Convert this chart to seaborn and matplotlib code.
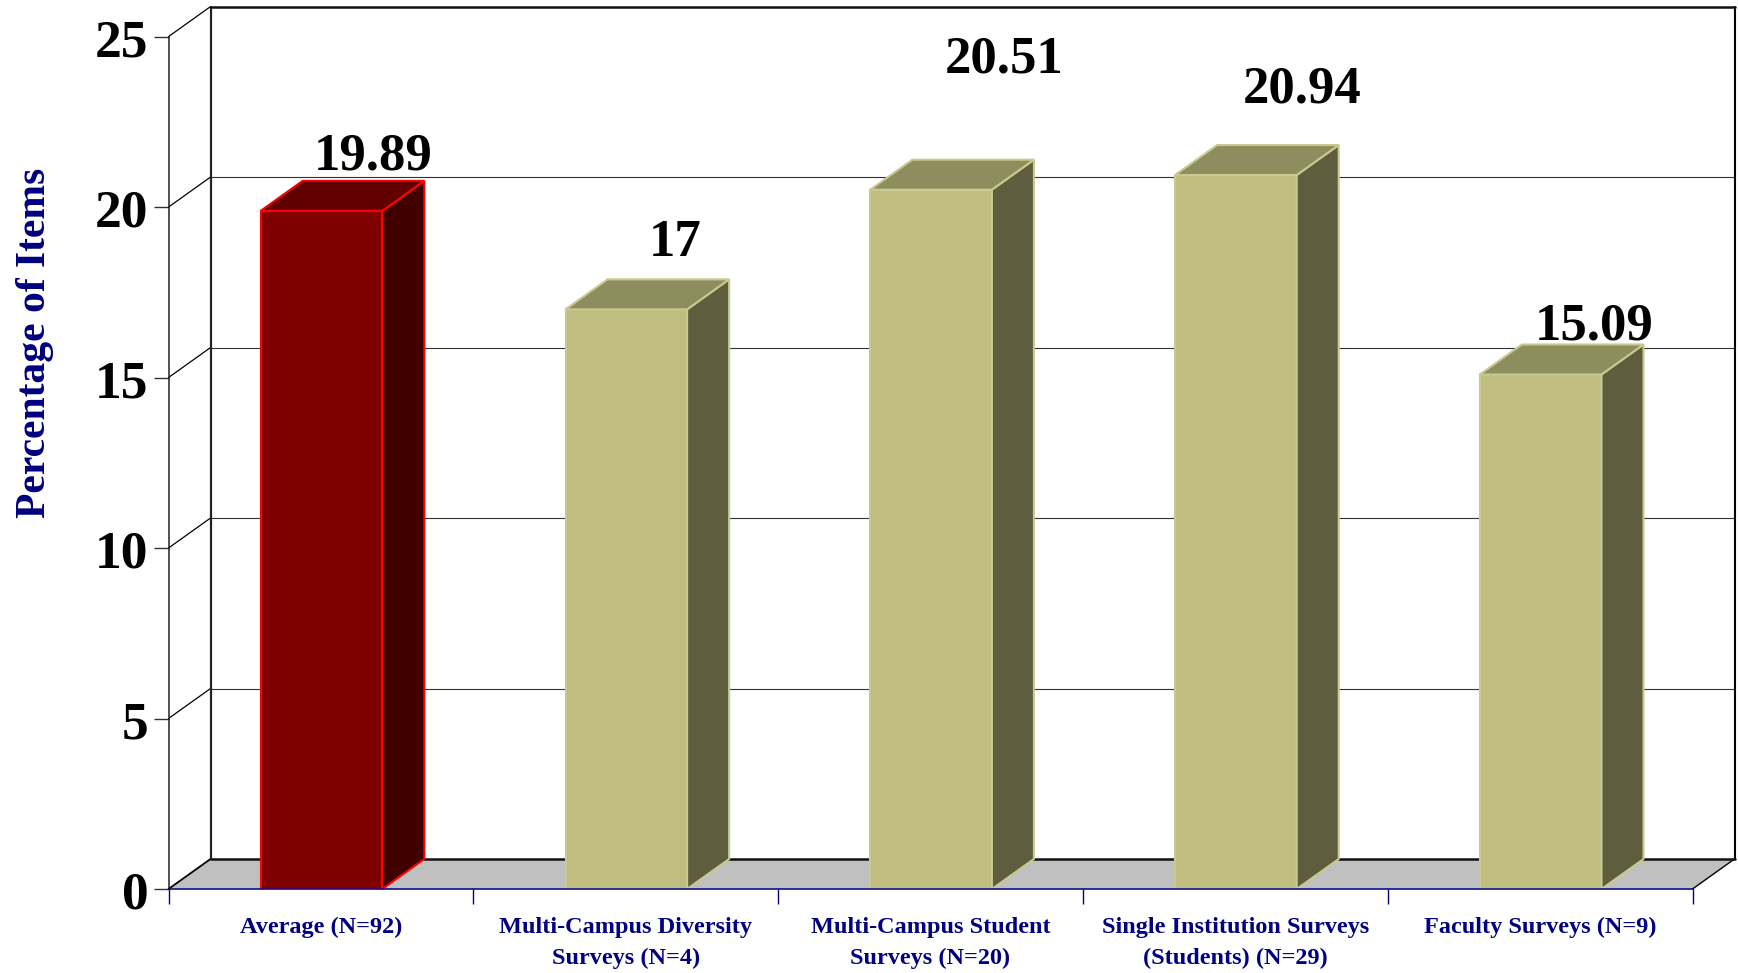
import matplotlib
matplotlib.use("Agg")
import matplotlib.pyplot as plt
from matplotlib.patches import Polygon
from matplotlib.ticker import FixedLocator
from matplotlib.transforms import ScaledTranslation
import pandas as pd
import seaborn as sns

categories = ["Average (N=92)", "Multi-Campus Diversity\nSurveys (N=4)",
              "Multi-Campus Student\nSurveys (N=20)",
              "Single Institution Surveys\n(Students) (N=29)", "Faculty Surveys (N=9)"]
values = [19.89, 17, 20.51, 20.94, 15.09]
y_ticks = [0, 5, 10, 15, 20, 25]
y_label = "Percentage of Items"

W, H = 1738, 973
DPI = 100
NAVY = "#000080"
sns.set_theme(style="white")
plt.rcParams["font.family"] = ["Liberation Serif", "DejaVu Serif"]
plt.rcParams["font.weight"] = "bold"

fig = plt.figure(figsize=(W / DPI, H / DPI), dpi=DPI)
left, right, top, bottom = 168.5, 1692.5, 36.6, 889.0
ax = fig.add_axes([left / W, 1 - bottom / H, (right - left) / W, (bottom - top) / H])

palette = ["#800000", "#BFBD80", "#BFBD80", "#BFBD80", "#BFBD80"]
edges = ["#FF0000", "#C9C88F", "#C9C88F", "#C9C88F", "#C9C88F"]
sides = ["#400000", "#5E5D3E", "#5E5D3E", "#5E5D3E", "#5E5D3E"]
tops = ["#600000", "#8E8D5E", "#8E8D5E", "#8E8D5E", "#8E8D5E"]

df = pd.DataFrame({"category": categories, "value": values})
sns.barplot(data=df, x="category", y="value", hue="category", palette=palette,
            legend=False, width=0.399, saturation=1, ax=ax, zorder=3)
bars = sorted(ax.patches, key=lambda p: p.get_x())
bars = [b for b in bars if b.get_height() > 0]
ax.set_xlim(-0.5, 4.5)
ax.set_ylim(0, 25)

px_x = (right - left) / 5
px_y = (bottom - top) / 25
dx, dy = 42 / px_x, 30 / px_y

# floor and walls
x0, x1 = -0.5, 4.5
ax.add_patch(Polygon([(x0, 0), (x1, 0), (x1 + dx, dy), (x0 + dx, dy)], closed=True,
                     fc="#C0C0C0", ec="none", zorder=0.5, clip_on=False))
for t in y_ticks[1:-1]:
    ax.plot([x0 + dx, x1 + dx], [t + dy, t + dy], color="#333333", lw=0.8, zorder=0.6, clip_on=False)
for t in y_ticks[1:]:
    ax.plot([x0, x0 + dx], [t, t + dy], color="black", lw=0.9, zorder=0.7, clip_on=False)
ax.plot([x0, x0 + dx], [0, dy], color="black", lw=1.3, zorder=0.7, clip_on=False)
ax.plot([x1, x1 + dx], [0, dy], color="black", lw=1.0, zorder=0.7, clip_on=False)
ax.plot([x0 + dx, x0 + dx], [dy, 25 + dy], color="#222222", lw=1.6, zorder=0.8, clip_on=False)
ax.plot([x1 + dx, x1 + dx], [dy, 25 + dy], color="black", lw=1.5, zorder=0.8, clip_on=False)
ax.plot([x0 + dx, x1 + dx], [dy, dy], color="#111111", lw=1.8, zorder=0.8, clip_on=False)
ax.plot([x0 + dx, x1 + dx], [25 + dy, 25 + dy], color="#111111", lw=1.8, zorder=0.8, clip_on=False)

# 3D faces and data labels
label_off = [(52, 54), (49, 66), (73, 130), (66, 86), (53, 48)]
for i, b in enumerate(bars):
    b.set_x(b.get_x() + 0.002)
    xa, w, h = b.get_x(), b.get_width(), b.get_height()
    b.set_edgecolor(edges[i])
    b.set_linewidth(1.5)
    bdy = dy * 1.0
    ax.add_patch(Polygon([(xa + w, 0), (xa + w + dx, bdy), (xa + w + dx, h + bdy), (xa + w, h)],
                         closed=True, fc=sides[i], ec=edges[i], lw=1.5, zorder=3.1, clip_on=False))
    ax.add_patch(Polygon([(xa, h), (xa + w, h), (xa + w + dx, h + bdy), (xa + dx, h + bdy)],
                         closed=True, fc=tops[i], ec=edges[i], lw=1.5, zorder=3.1, clip_on=False))
    ox, oy = label_off[i]
    ax.annotate(f"{values[i]:g}", (xa + w / 2, h), xytext=(ox * 0.72, oy * 0.72),
                textcoords="offset points", ha="center", va="center", fontsize=38,
                fontweight="bold", color="black", zorder=5, annotation_clip=False)

# axes
for s in ["top", "right"]:
    ax.spines[s].set_visible(False)
ax.spines["left"].set_color("#222222")
ax.spines["left"].set_linewidth(1.1)
ax.spines["bottom"].set_color(NAVY)
ax.spines["bottom"].set_linewidth(1.1)
ax.spines["bottom"].set_zorder(4)

ax.set_yticks(y_ticks)
ax.set_yticklabels([str(t) for t in y_ticks], fontsize=38.5, fontweight="bold", color="black")
ax.tick_params(axis="y", which="major", left=True, length=10.5, width=1.0, color="#333333", pad=3.8)
shift = ScaledTranslation(0, -1.0 / DPI, fig.dpi_scale_trans)
for lab in ax.get_yticklabels():
    lab.set_transform(lab.get_transform() + shift)
ax.set_xticks(range(5))
ax.set_xticklabels(categories, fontsize=17.5, fontweight="bold", color=NAVY, linespacing=1.65)
ax.xaxis.set_minor_locator(FixedLocator([-0.5, 0.5, 1.5, 2.5, 3.5, 4.5]))
ax.tick_params(axis="x", which="major", bottom=False, pad=14)
ax.tick_params(axis="x", which="minor", bottom=True, length=10.5, width=1.0, color=NAVY)
ax.set_xlabel("")
ax.set_ylabel("")
fig.text(35 / W, 1 - 343 / H, y_label, rotation=90, ha="center", va="center",
         fontsize=30, fontweight="bold", color=NAVY)

fig.savefig("out.png", dpi=DPI)
